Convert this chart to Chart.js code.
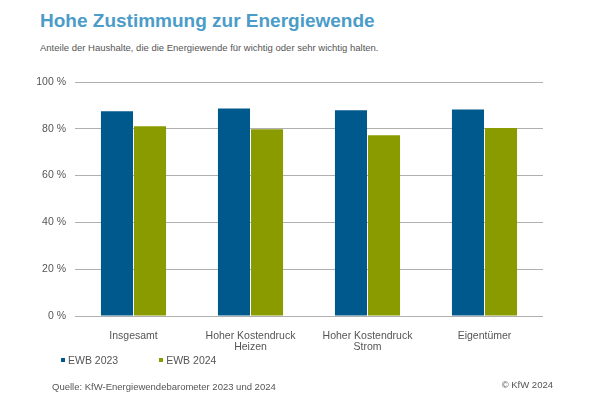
<!DOCTYPE html>
<html lang="de">
<head>
<meta charset="utf-8">
<script src="https://cdn.jsdelivr.net/npm/chart.js@4"></script>
<style>
  html, body { margin: 0; padding: 0; background: #fff; }
  body { width: 597px; height: 398px; position: relative; overflow: hidden; font-family: "Liberation Sans", Arial, sans-serif; }
  #chartBox { position: absolute; left: 0; top: 0; width: 597px; height: 398px; }
  .txt { position: absolute; white-space: nowrap; }
  #title { left: 40px; top: 11px; font-size: 19px; line-height: 19px; font-weight: bold; color: #4b9cc8; }
  #subtitle { left: 40px; top: 43px; font-size: 9.5px; line-height: 10px; color: #555; }
  #legend { left: 61px; top: 354px; font-size: 10.5px; line-height: 12px; color: #555; }
  #legend span.item { display: inline-block; margin-right: 41px; }
  #legend span.box { display: inline-block; width: 4px; height: 4px; margin-right: 3px; vertical-align: 2px; }
  #source { left: 52px; top: 381px; font-size: 9.5px; line-height: 12px; color: #555; }
  #copy { right: 44px; top: 379px; font-size: 9.5px; line-height: 12px; color: #555; }
</style>
</head>
<body>
<div class="txt" id="title">Hohe Zustimmung zur Energiewende</div>
<div class="txt" id="subtitle">Anteile der Haushalte, die die Energiewende für wichtig oder sehr wichtig halten.</div>
<div id="chartBox"><canvas id="energyChart"></canvas></div>
<div class="txt" id="legend"></div>
<div class="txt" id="source">Quelle: KfW-Energiewendebarometer 2023 und 2024</div>
<div class="txt" id="copy">© KfW 2024</div>
<script>
// categories (multi-line labels as arrays)
const categories = [
    'Insgesamt',
    ['Hoher Kostendruck', 'Heizen'],
    ['Hoher Kostendruck', 'Strom'],
    'Eigentümer'
];
const seriesNames = ['EWB 2023', 'EWB 2024'];
const ewb2023 = [87.5, 88.7, 87.9, 88.3];
const ewb2024 = [81.1, 79.8, 77.2, 80.3];
const yTicks = [0, 20, 40, 60, 80, 100];

const colors = ['#00598c', '#8a9b00'];

const ctx = document.getElementById('energyChart').getContext('2d');
const energyChart = new Chart(ctx, {
    type: 'bar',
    data: {
        labels: categories,
        datasets: [
            { label: seriesNames[0], data: ewb2023, backgroundColor: colors[0] },
            { label: seriesNames[1], data: ewb2024, backgroundColor: colors[1] }
        ]
    },
    options: {
        responsive: true,
        maintainAspectRatio: false,
        animation: false,
        categoryPercentage: 0.565,
        barPercentage: 0.97,
        layout: { padding: { left: 0, right: 54, top: 82, bottom: 42 } },
        plugins: {
            legend: { display: false },
            tooltip: { enabled: false }
        },
        scales: {
            x: {
                grid: { display: false },
                border: { display: false },
                ticks: {
                    color: '#555',
                    padding: 6,
                    maxRotation: 0,
                    autoSkip: false,
                    font: { family: 'Liberation Sans', size: 10.5, lineHeight: 1.1 }
                },
                afterFit: function(scale) { scale.height = 40; }
            },
            y: {
                min: 0,
                max: 100,
                afterBuildTicks: function(scale) {
                    scale.ticks = yTicks.map(v => ({ value: v }));
                },
                grid: { color: '#b0b0b0', lineWidth: 1, drawTicks: false },
                border: { display: false },
                ticks: {
                    color: '#555',
                    padding: 9,
                    font: { family: 'Liberation Sans', size: 10.5 },
                    callback: function(value) { return value + ' %'; }
                },
                afterFit: function(scale) { scale.width = 75; }
            }
        }
    }
});

// simple html legend
const legendEl = document.getElementById('legend');
seriesNames.forEach(function(name, i) {
    const item = document.createElement('span');
    item.className = 'item';
    item.innerHTML = '<span class="box" style="background:' + colors[i] + '"></span>' + name;
    legendEl.appendChild(item);
});
</script>
</body>
</html>
